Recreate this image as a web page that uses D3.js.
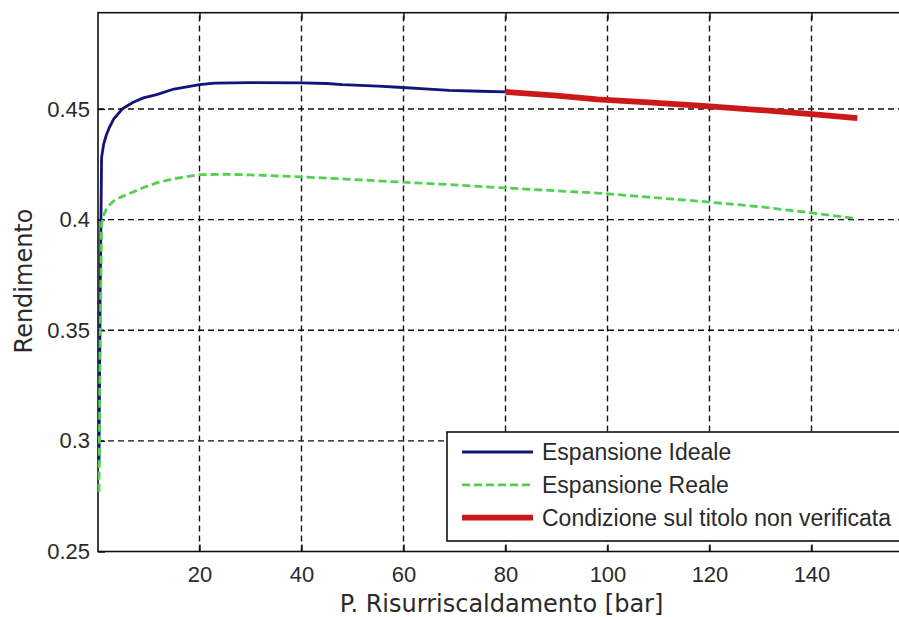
<!DOCTYPE html>
<html>
<head>
<meta charset="utf-8">
<script src="https://cdn.jsdelivr.net/npm/d3@7"></script>
<style>
  html, body { margin: 0; padding: 0; background: #fff; }
  svg { display: block; }
</style>
</head>
<body>
<svg id="chart" width="899" height="617"></svg>
<script>
// Reheat pressure [bar] and cycle efficiency
const idealP   = [0.3, 0.5, 0.8, 1.2, 1.7, 2.3, 3.2, 4.9, 7, 9, 11.6, 15, 20, 23, 30, 40, 45, 48, 55, 59, 65, 69, 75, 80];
const idealEta = [0.290, 0.360, 0.428, 0.434, 0.438, 0.4415, 0.4455, 0.4501, 0.4530, 0.4550, 0.4565, 0.4590, 0.4610, 0.4617, 0.4619, 0.4618, 0.4615, 0.4610, 0.4603, 0.4598, 0.4590, 0.4584, 0.4580, 0.4577];

const realP   = [0.3, 0.5, 0.8, 1.2, 1.7, 2.5, 3.5, 4.9, 7, 9, 11.6, 15, 20, 25, 30, 40, 48, 59, 69, 80, 98, 118, 130, 140, 148.5];
const realEta = [0.277, 0.340, 0.398, 0.402, 0.4045, 0.4070, 0.4090, 0.4105, 0.4125, 0.4145, 0.4166, 0.4185, 0.4203, 0.4205, 0.4202, 0.4193, 0.4184, 0.4170, 0.4158, 0.4143, 0.4120, 0.4083, 0.4058, 0.4030, 0.4005];

const failP   = [80, 90, 98, 108, 118, 130, 140, 149];
const failEta = [0.4577, 0.4560, 0.4543, 0.4530, 0.4515, 0.4495, 0.4477, 0.4459];

const xTicks = [20, 40, 60, 80, 100, 120, 140];
const yTicks = [0.25, 0.3, 0.35, 0.4, 0.45];

const seriesNames = ["Espansione Ideale", "Espansione Reale", "Condizione sul titolo non verificata"];

const svg = d3.select("#chart");

const plotL = 98, plotT = 12.7, plotB = 551.5, plotR = 913.5;
const x = d3.scaleLinear().domain([0.1, 160]).range([plotL, plotR]);
const y = d3.scaleLinear().domain([0.25, 0.4935]).range([plotB, plotT]);

// plot background
svg.append("rect").attr("x", plotL).attr("y", plotT)
  .attr("width", plotR - plotL).attr("height", plotB - plotT)
  .attr("fill", "#fff");

// dashed grid
const grid = svg.append("g").attr("stroke", "#111").attr("stroke-width", 1.4)
  .attr("stroke-dasharray", "6,4");
grid.selectAll("line.v").data(xTicks).join("line").attr("class", "v")
  .attr("x1", d => x(d)).attr("x2", d => x(d))
  .attr("y1", plotB).attr("y2", plotT);
grid.selectAll("line.h").data(yTicks.slice(1)).join("line").attr("class", "h")
  .attr("x1", plotL).attr("x2", plotR)
  .attr("y1", d => y(d)).attr("y2", d => y(d));

// axes with inward ticks
const font = "'Liberation Sans', Arial, sans-serif";
const xAxis = svg.append("g").attr("transform", `translate(0,${plotB})`)
  .call(d3.axisBottom(x).tickValues(xTicks).tickSizeInner(-7).tickSizeOuter(0).tickPadding(15));
const xAxisTop = svg.append("g").attr("transform", `translate(0,${plotT})`)
  .call(d3.axisTop(x).tickValues(xTicks).tickSizeInner(-7).tickSizeOuter(0).tickFormat(""));
const yAxis = svg.append("g").attr("transform", `translate(${plotL},0)`)
  .call(d3.axisLeft(y).tickValues(yTicks).tickSizeInner(-7).tickSizeOuter(0).tickPadding(8)
    .tickFormat(d => String(d)));
[xAxis, xAxisTop, yAxis].forEach(g => {
  g.select(".domain").remove();
  g.selectAll(".tick line").attr("stroke", "#111").attr("stroke-width", 1.4);
  g.selectAll("text").attr("font-family", font).attr("font-size", 22).attr("fill", "#2a2a2a");
});

// plot frame
svg.append("rect").attr("x", plotL).attr("y", plotT)
  .attr("width", plotR - plotL).attr("height", plotB - plotT)
  .attr("fill", "none").attr("stroke", "#111").attr("stroke-width", 1.6);

// curves
const line = d3.line().x(d => x(d[0])).y(d => y(d[1]));
const zip = (a, b) => a.map((v, i) => [v, b[i]]);

svg.append("path").datum(zip(idealP, idealEta)).attr("d", line)
  .attr("fill", "none").attr("stroke", "#141478").attr("stroke-width", 2.8)
  .attr("stroke-linejoin", "round");
svg.append("path").datum(zip(realP, realEta)).attr("d", line)
  .attr("fill", "none").attr("stroke", "#52d052").attr("stroke-width", 2.8)
  .attr("stroke-dasharray", "8,4");
svg.append("path").datum(zip(failP, failEta)).attr("d", line)
  .attr("fill", "none").attr("stroke", "#cc1818").attr("stroke-width", 5.8)
  .attr("stroke-linejoin", "round");

// legend
const legend = svg.append("g");
legend.append("rect").attr("x", 447).attr("y", 432).attr("width", 470).attr("height", 109)
  .attr("fill", "#fff").attr("stroke", "#111").attr("stroke-width", 1.6);
const legendStyles = [
  { stroke: "#141478", width: 2.8, dash: null },
  { stroke: "#52d052", width: 2.8, dash: "8,4" },
  { stroke: "#cc1818", width: 5.8, dash: null }
];
seriesNames.forEach((name, i) => {
  const cy = 452 + i * 32.8;
  legend.append("line").attr("x1", 462).attr("x2", 533).attr("y1", cy).attr("y2", cy)
    .attr("stroke", legendStyles[i].stroke).attr("stroke-width", legendStyles[i].width)
    .attr("stroke-dasharray", legendStyles[i].dash);
  legend.append("text").attr("x", 542).attr("y", cy).attr("dy", "0.36em")
    .attr("font-family", font).attr("font-size", 23).attr("fill", "#2a2a2a")
    .text(name);
});

// axis titles
const titleFont = "'DejaVu Sans', Verdana, sans-serif";
svg.append("text").attr("x", (331 + 672) / 2).attr("y", 612)
  .attr("text-anchor", "middle").attr("font-family", titleFont).attr("font-size", 24)
  .attr("fill", "#2a2a2a").text("P. Risurriscaldamento [bar]");
svg.append("text").attr("transform", "translate(32,281) rotate(-90)")
  .attr("text-anchor", "middle").attr("font-family", titleFont).attr("font-size", 24)
  .attr("fill", "#2a2a2a").text("Rendimento");
</script>
</body>
</html>
